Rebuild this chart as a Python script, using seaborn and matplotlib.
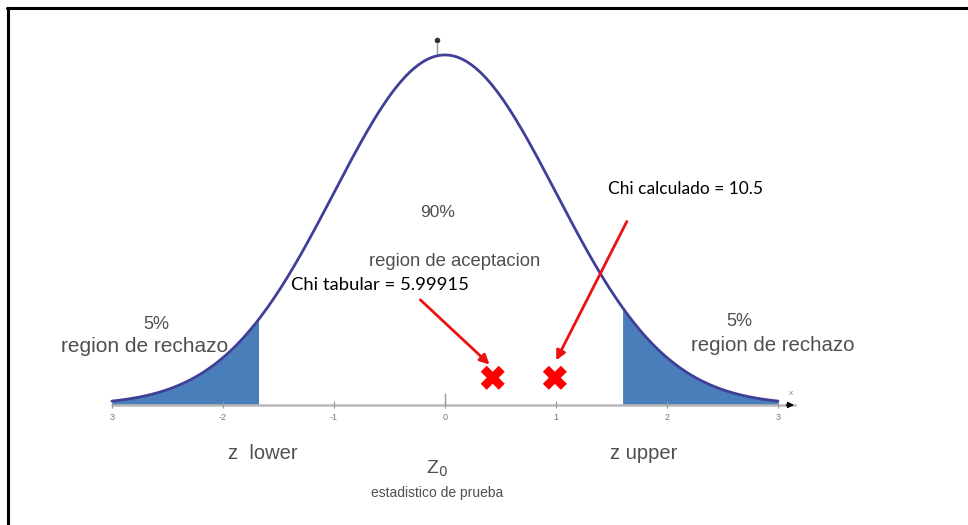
import numpy as np
import pandas as pd
import matplotlib
matplotlib.use('Agg')
import matplotlib.pyplot as plt
import seaborn as sns

# data
z_grid = np.linspace(-3, 3, 301)
density = np.exp(-z_grid ** 2 / 2) / np.sqrt(2 * np.pi)
z_crit = [-1.68, 1.6]
tick_values = [-3, -2, -1, 0, 1, 2, 3]
tick_labels = ['3', '-2', '-1', '0', '1', '2', '3']
chi_labels = ['Chi tabular = 5.99915', 'Chi calculado = 10.5']
chi_pos = [0.43, 0.99]
chi_height = [0.031, 0.031]

sns.set_style('white')
plt.rcParams['font.family'] = ['Liberation Sans', 'DejaVu Sans']

fig = plt.figure(figsize=(9.68, 5.25), dpi=100)
ax = fig.add_axes([0, 0, 1, 1])
ax.set_xlim(-4.009, 4.712)
ax.set_ylim(-0.1368, 0.4616)
ax.axis('off')

curve = pd.DataFrame({'z': z_grid, 'f': density})

# tails
left = curve[curve.z <= z_crit[0]]
right = curve[curve.z >= z_crit[1]]
ax.fill_between(left.z, 0, left.f, color='#4a7ebb', lw=0)
ax.fill_between(right.z, 0, right.f, color='#4a7ebb', lw=0)

# x axis
ax.plot([-3, 3.15], [0, 0], color='#b8b8b8', lw=1.8, zorder=1)
ax.annotate('', xy=(3.17, 0), xytext=(3.05, 0),
            arrowprops=dict(arrowstyle='-|>', color='black', lw=1, mutation_scale=9))
ax.text(3.12, 0.011, 'x', fontsize=6, color='#888888', ha='center')
ax.vlines(tick_values, -0.004, 0.004, color='#999999', lw=0.8)
ax.vlines(0, 0, 0.014, color='#999999', lw=1)
for v, lab in zip(tick_values, tick_labels):
    ax.text(v, -0.014, lab, fontsize=6.5, color='#777777', ha='center', va='center')

# y axis stub at peak
ax.vlines(-0.07, 0.3989, 0.413, color='#999999', lw=1)
ax.plot(-0.07, 0.416, 'o', color='#333333', ms=3)

# curve
sns.lineplot(data=curve, x='z', y='f', ax=ax, color='#3f3f98', lw=2, zorder=3)

# text labels
grey = '#4f4f4f'
ax.text(-0.07, 0.219, '90%', fontsize=12.5, color=grey, ha='center', va='center')
ax.text(0.09, 0.163, 'region de aceptacion', fontsize=13.3, color=grey, ha='center', va='center')
ax.text(-2.6, 0.092, '5%', fontsize=13, color=grey, ha='center', va='center')
ax.text(-2.71, 0.067, 'region de rechazo', fontsize=15, color=grey, ha='center', va='center')
ax.text(2.65, 0.095, '5%', fontsize=13, color=grey, ha='center', va='center')
ax.text(2.95, 0.068, 'region de rechazo', fontsize=14.7, color=grey, ha='center', va='center')
ax.text(-1.64, -0.055, 'z  lower', fontsize=14.5, color=grey, ha='center', va='center')
ax.text(1.79, -0.055, 'z upper', fontsize=14.5, color=grey, ha='center', va='center')
ax.text(-0.07, -0.073, r'Z$_0$', fontsize=14, color=grey, ha='center', va='center')
ax.text(-0.07, -0.1, 'estadistico de prueba', fontsize=10, color=grey, ha='center', va='center')

# chi marks
sns.scatterplot(x=chi_pos, y=chi_height, ax=ax, marker='X', s=300, color='#ff0000',
                edgecolor='none', zorder=5)
ax.annotate('', xy=(chi_pos[0] - 0.01, chi_height[0] + 0.013), xytext=(-0.24, 0.122),
            arrowprops=dict(arrowstyle='-|>', color='#ee1111', lw=2, mutation_scale=14))
ax.annotate('', xy=(chi_pos[1], chi_height[1] + 0.017), xytext=(1.65, 0.212),
            arrowprops=dict(arrowstyle='-|>', color='#ee1111', lw=2, mutation_scale=14))
ax.text(-1.39, 0.137, chi_labels[0], fontsize=13.3, color='black', ha='left', va='center',
        family=['Lato', 'DejaVu Sans'])
ax.text(1.47, 0.246, chi_labels[1], fontsize=12.5, color='black', ha='left', va='center',
        family=['Lato', 'DejaVu Sans'])

# frame
fig.add_artist(plt.Line2D([7 / 968, 1], [1 - 8 / 525, 1 - 8 / 525], color='black', lw=2.2))
fig.add_artist(plt.Line2D([8 / 968, 8 / 968], [0, 1 - 8 / 525], color='black', lw=2.2))

fig.savefig('out.png', dpi=100)
